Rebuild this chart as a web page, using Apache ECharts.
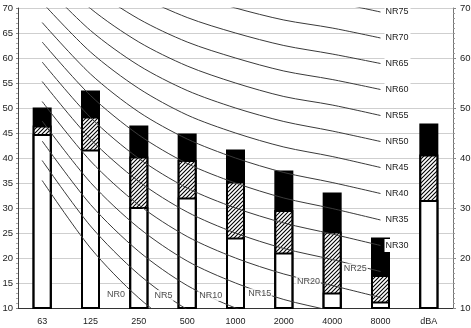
<!DOCTYPE html>
<html>
<head>
<meta charset="utf-8">
<script src="https://cdn.jsdelivr.net/npm/echarts@6/dist/echarts.min.js"></script>
<style>
  html, body { margin: 0; padding: 0; background: #fff; }
  #chart { width: 471px; height: 328px; }
</style>
</head>
<body>
<div id="chart"></div>
<script>
// Octave bands plus overall A-weighted level
const bands = ['63', '125', '250', '500', '1000', '2000', '4000', '8000', 'dBA'];

// Upper edge (dB) of each stacked segment
const levelTotal   = [50.1, 53.5, 46.5, 44.9, 41.7, 37.5, 33.1, 24.1, 46.9];
const levelHatched = [46.5, 48.3, 40.3, 39.6, 35.3, 29.6, 25.3, 16.6, 40.7];
const levelWhite   = [44.8, 41.7, 30.2, 32.1, 24.1, 21.1, 13.1, 11.3, 31.6];

// Noise rating curves, 63 Hz .. 8 kHz
const nrNames = ['NR0', 'NR5', 'NR10', 'NR15', 'NR20', 'NR25', 'NR30', 'NR35',
                 'NR40', 'NR45', 'NR50', 'NR55', 'NR60', 'NR65', 'NR70', 'NR75'];
const nrCurveLevels = [
  [35.5, 22.0, 12.0,  4.8,  0.0, -3.5, -6.1, -8.7],
  [39.5, 26.4, 16.7,  9.7,  5.0,  1.6, -0.9, -3.5],
  [43.4, 30.7, 21.3, 14.5, 10.0,  6.7,  4.2,  1.7],
  [47.4, 35.1, 26.0, 19.4, 15.0, 11.7,  9.4,  6.9],
  [51.3, 39.4, 30.6, 24.3, 20.0, 16.8, 14.5, 12.1],
  [55.3, 43.8, 35.3, 29.2, 25.0, 21.9, 19.7, 17.3],
  [59.2, 48.1, 39.9, 34.0, 30.0, 27.0, 24.8, 22.5],
  [63.2, 52.5, 44.6, 38.9, 35.0, 32.0, 29.9, 27.6],
  [67.1, 56.8, 49.2, 43.8, 40.0, 37.1, 35.1, 32.9],
  [71.1, 61.2, 53.9, 48.6, 45.0, 42.2, 40.3, 38.1],
  [75.0, 65.5, 58.5, 53.5, 50.0, 47.3, 45.4, 43.3],
  [79.0, 69.9, 63.2, 58.4, 55.0, 52.3, 50.6, 48.5],
  [82.9, 74.2, 67.8, 63.2, 60.0, 57.4, 55.7, 53.7],
  [86.9, 78.6, 72.5, 68.1, 65.0, 62.5, 60.8, 58.9],
  [90.8, 82.9, 77.1, 73.0, 70.0, 67.6, 66.0, 64.0],
  [94.8, 87.3, 81.8, 77.9, 75.0, 72.6, 71.2, 69.2]
];

// The low curves are tagged along the line instead of at their end
const inlineTagNames = ['NR0', 'NR5', 'NR10', 'NR15', 'NR20', 'NR25'];
const inlineTagBand  = [1.53, 2.51, 3.49, 4.50, 5.51, 6.48];
const inlineTagLevel = [12.7, 12.5, 12.5, 12.8, 15.3, 17.8];

const yTicksLeft = [10, 70, 5];
const yTicksRight = [10, 70, 10];

const FONT = 'Liberation Sans, Arial, sans-serif';
const TEXT = '#222';

function hatchPattern() {
  const s = 4;
  const c = document.createElement('canvas');
  c.width = s; c.height = s;
  const g = c.getContext('2d');
  g.fillStyle = '#ffffff';
  g.fillRect(0, 0, s, s);
  g.strokeStyle = '#000000';
  g.lineWidth = 1.1;
  g.beginPath();
  g.moveTo(0, s); g.lineTo(s, 0);
  g.moveTo(-1, 1); g.lineTo(1, -1);
  g.moveTo(s - 1, s + 1); g.lineTo(s + 1, s - 1);
  g.stroke();
  return c;
}

const chart = echarts.init(document.getElementById('chart'), null, { renderer: 'canvas' });

const barCommon = {
  type: 'bar',
  xAxisIndex: 0,
  yAxisIndex: 0,
  barWidth: 19,
  barGap: '-100%',
  animation: false,
  silent: true
};

const series = [
  Object.assign({}, barCommon, {
    name: 'total', z: 2, data: levelTotal,
    itemStyle: { color: '#000', borderColor: '#000', borderWidth: 2 }
  }),
  Object.assign({}, barCommon, {
    name: 'hatched', z: 3, data: levelHatched,
    itemStyle: { color: { image: hatchPattern(), repeat: 'repeat' }, borderColor: '#000', borderWidth: 2 }
  }),
  Object.assign({}, barCommon, {
    name: 'white', z: 4, data: levelWhite,
    itemStyle: { color: '#fff', borderColor: '#000', borderWidth: 2 }
  })
];

nrNames.forEach((name, i) => {
  const tagged = inlineTagNames.indexOf(name) < 0;
  series.push({
    type: 'line',
    name: name,
    xAxisIndex: 0,
    yAxisIndex: 0,
    z: 5,
    data: nrCurveLevels[i],
    smooth: 0.3,
    showSymbol: false,
    symbol: 'none',
    clip: true,
    animation: false,
    silent: true,
    lineStyle: { color: '#3a3a3a', width: 1 },
    endLabel: {
      show: tagged,
      formatter: name,
      distance: 4,
      color: TEXT,
      fontFamily: FONT,
      fontSize: 9,
      backgroundColor: '#fff',
      padding: [2, 2, 2, 1]
    }
  });
});

series.push({
  type: 'scatter',
  name: 'tags',
  xAxisIndex: 1,
  yAxisIndex: 0,
  z: 8,
  symbolSize: 0,
  animation: false,
  silent: true,
  data: inlineTagNames.map((n, i) => ({ value: [inlineTagBand[i], inlineTagLevel[i]], name: n })),
  label: {
    show: true,
    position: 'inside',
    formatter: p => p.name,
    color: TEXT,
    fontFamily: FONT,
    fontSize: 9,
    backgroundColor: '#fff',
    padding: [1, 1, 1, 1]
  }
});

chart.setOption({
  backgroundColor: '#fff',
  animation: false,
  grid: { left: 18, right: 18, top: 8, bottom: 20, containLabel: false, outerBoundsMode: 'none' },
  xAxis: [
    {
      type: 'category',
      data: bands,
      boundaryGap: true,
      axisLine: { show: true, onZero: false, lineStyle: { color: '#333', width: 1 } },
      axisTick: { show: false },
      axisLabel: { color: TEXT, fontFamily: FONT, fontSize: 9, margin: 9, interval: 0 },
      splitLine: { show: false }
    },
    {
      type: 'value',
      min: -0.5,
      max: 8.5,
      show: false
    }
  ],
  yAxis: [
    {
      type: 'value',
      position: 'left',
      min: yTicksLeft[0], max: yTicksLeft[1], interval: yTicksLeft[2],
      axisLine: { show: true, onZero: false, lineStyle: { color: '#444', width: 1 } },
      axisTick: { show: true, length: 2, lineStyle: { color: '#888' } },
      minorTick: { show: true, splitNumber: 5, length: 2, lineStyle: { color: '#aaa' } },
      axisLabel: { color: TEXT, fontFamily: FONT, fontSize: 9.5, margin: 5 },
      splitLine: { show: true, lineStyle: { color: '#cfcfcf', width: 1 } }
    },
    {
      type: 'value',
      position: 'right',
      min: yTicksRight[0], max: yTicksRight[1], interval: yTicksRight[2],
      axisLine: { show: true, onZero: false, lineStyle: { color: '#777', width: 1 } },
      axisTick: { show: true, length: 3, lineStyle: { color: '#888' } },
      minorTick: { show: true, splitNumber: 10, length: 2, lineStyle: { color: '#999' } },
      axisLabel: { color: TEXT, fontFamily: FONT, fontSize: 9.5, margin: 7 },
      splitLine: { show: false }
    }
  ],
  series: series
});
</script>
</body>
</html>
